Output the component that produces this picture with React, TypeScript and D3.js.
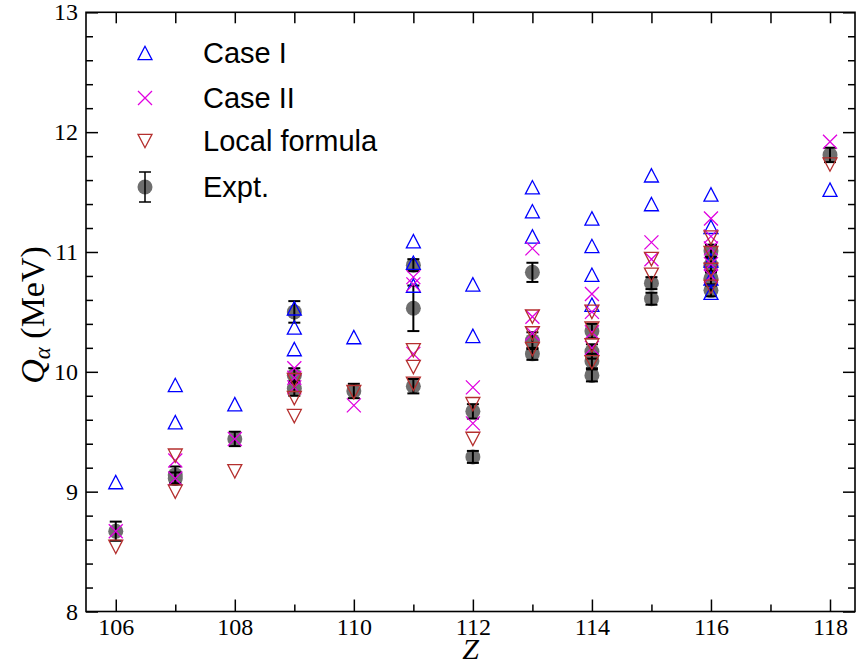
import React, { useEffect, useRef } from "react";
import * as d3 from "d3";

// [Z, Q_alpha (MeV)]
const caseI = [
  [106, 9.08],
  [107, 9.89], [107, 9.58],
  [108, 9.73],
  [109, 10.53], [109, 10.37], [109, 10.19],
  [110, 10.29],
  [111, 11.09], [111, 10.91], [111, 10.72],
  [112, 10.73], [112, 10.3],
  [113, 11.54], [113, 11.34], [113, 11.13],
  [114, 11.28], [114, 11.05], [114, 10.81], [114, 10.56],
  [115, 11.64], [115, 11.4],
  [116, 11.48], [116, 11.21], [116, 10.93], [116, 10.78], [116, 10.66],
  [118, 11.52],
];

const caseII = [
  [106, 8.67],
  [107, 9.26], [107, 9.11],
  [108, 9.44],
  [109, 10.03], [109, 9.95], [109, 9.87],
  [110, 9.72],
  [111, 10.79], [111, 10.73], [111, 10.15],
  [112, 9.87], [112, 9.57],
  [113, 11.03], [113, 10.46], [113, 10.32],
  [114, 10.65], [114, 10.5], [114, 10.33], [114, 10.2],
  [115, 11.08], [115, 10.94],
  [116, 11.28], [116, 11.13], [116, 11.03], [116, 10.9], [116, 10.8],
  [118, 11.92],
];

const localFormula = [
  [106, 8.54],
  [107, 9.3], [107, 9.0],
  [108, 9.17],
  [109, 9.93], [109, 9.78], [109, 9.63],
  [110, 9.83],
  [111, 10.18], [111, 10.04], [111, 9.9],
  [112, 9.73], [112, 9.44],
  [113, 10.46], [113, 10.32], [113, 10.19],
  [114, 10.5], [114, 10.36], [114, 10.22], [114, 10.08],
  [115, 10.94], [115, 10.81],
  [116, 11.12], [116, 10.99], [116, 10.85], [116, 10.71],
  [118, 11.73],
];

// [Z, Q, error]
const expt = [
  [106, 8.67, 0.08],
  [107, 9.14, 0.07], [107, 9.11, 0.05],
  [108, 9.44, 0.06],
  [109, 10.5, 0.09], [109, 9.97, 0.06], [109, 9.86, 0.06],
  [110, 9.84, 0.06],
  [111, 10.89, 0.05], [111, 10.53, 0.19], [111, 9.88, 0.06],
  [112, 9.67, 0.06], [112, 9.29, 0.05],
  [113, 10.83, 0.08], [113, 10.26, 0.07], [113, 10.15, 0.05],
  [114, 10.34, 0.06], [114, 10.17, 0.06], [114, 10.09, 0.06], [114, 9.97, 0.05],
  [115, 10.74, 0.05], [115, 10.61, 0.05],
  [116, 11.01, 0.05], [116, 10.89, 0.06], [116, 10.78, 0.06], [116, 10.68, 0.05],
  [118, 11.81, 0.06],
];

const legendLabels = ["Case I", "Case II", "Local formula", "Expt."];
const yMajor = [8, 9, 10, 11, 12, 13];
const xMajor = [106, 108, 110, 112, 114, 116, 118];

const W = 860;
const H = 668;
const BLUE = "#0000ff";
const MAG = "#e000e0";
const RED = "#b5302f";
const GRAY = "#6e6e6e";
const SERIF = "'Liberation Serif', 'Times New Roman', Times, serif";

const triUp = "M0,-6.7L-7,6.7L7,6.7Z";
const triDown = "M0,6.7L-7,-6.7L7,-6.7Z";
const cross = "M-7,-7L7,7M-7,7L7,-7";

export default function App() {
  const ref = useRef(null);

  useEffect(() => {
    const svg = d3.select(ref.current);
    svg.selectAll("*").remove();

    const x = d3.scaleLinear().domain([105.5, 118.42]).range([86, 855]);
    const y = d3.scaleLinear().domain([8, 13]).range([611.5, 12.3]);
    const [x0, x1] = x.range();
    const [y0, y1] = y.range();

    const minorY = d3.range(8, 13.001, 0.2).filter((v) => Math.abs(v - Math.round(v)) > 0.01);
    const minorX = [107, 109, 111, 113, 115, 117];
    const allX = d3.range(106, 119);

    const styleAxis = (g) => {
      g.attr("font-family", null).attr("font-size", null);
      g.select(".domain").remove();
      g.selectAll(".tick line").attr("stroke", "#000").attr("stroke-width", 1.5);
      g.selectAll("text")
        .attr("fill", "#000")
        .style("font-family", SERIF)
        .style("font-size", "24px");
    };

    // bottom
    svg.append("g").attr("transform", `translate(0,${y0})`)
      .call(d3.axisBottom(x).tickValues(xMajor).tickSize(-12).tickPadding(6).tickFormat(d3.format("d")))
      .call(styleAxis);
    svg.append("g").attr("transform", `translate(0,${y0})`)
      .call(d3.axisBottom(x).tickValues(minorX).tickSize(-7).tickFormat(() => ""))
      .call(styleAxis);
    // top
    svg.append("g").attr("transform", `translate(0,${y1})`)
      .call(d3.axisTop(x).tickValues(allX).tickSize(-11).tickFormat(() => ""))
      .call(styleAxis);
    // left
    svg.append("g").attr("transform", `translate(${x0},0)`)
      .call(d3.axisLeft(y).tickValues(yMajor).tickSize(-12).tickPadding(8).tickFormat(d3.format("d")))
      .call(styleAxis);
    svg.append("g").attr("transform", `translate(${x0},0)`)
      .call(d3.axisLeft(y).tickValues(minorY).tickSize(-7).tickFormat(() => ""))
      .call(styleAxis);
    // right
    svg.append("g").attr("transform", `translate(${x1},0)`)
      .call(d3.axisRight(y).tickValues(yMajor).tickSize(-12).tickFormat(() => ""))
      .call(styleAxis);
    svg.append("g").attr("transform", `translate(${x1},0)`)
      .call(d3.axisRight(y).tickValues(minorY).tickSize(-7).tickFormat(() => ""))
      .call(styleAxis);

    svg.append("rect")
      .attr("x", x0).attr("y", y1)
      .attr("width", x1 - x0).attr("height", y0 - y1)
      .attr("fill", "none").attr("stroke", "#000").attr("stroke-width", 1.6);

    // experimental points
    const ex = svg.append("g");
    ex.selectAll("circle").data(expt).enter().append("circle")
      .attr("cx", (d) => x(d[0])).attr("cy", (d) => y(d[1]))
      .attr("r", 7.5).attr("fill", GRAY);
    const eb = ex.selectAll("g.eb").data(expt).enter().append("g").attr("class", "eb")
      .attr("stroke", "#000").attr("stroke-width", 2);
    eb.append("line")
      .attr("x1", (d) => x(d[0])).attr("x2", (d) => x(d[0]))
      .attr("y1", (d) => y(d[1] - d[2])).attr("y2", (d) => y(d[1] + d[2]));
    [1, -1].forEach((s) => {
      eb.append("line")
        .attr("x1", (d) => x(d[0]) - 6).attr("x2", (d) => x(d[0]) + 6)
        .attr("y1", (d) => y(d[1] + s * d[2])).attr("y2", (d) => y(d[1] + s * d[2]));
    });

    const drawMarkers = (data, path, color) => {
      svg.append("g").selectAll("path").data(data).enter().append("path")
        .attr("transform", (d) => `translate(${x(d[0])},${y(d[1])})`)
        .attr("d", path).attr("fill", "none").attr("stroke", color).attr("stroke-width", 1.3);
    };
    drawMarkers(caseI, triUp, BLUE);
    drawMarkers(caseII, cross, MAG);
    drawMarkers(localFormula, triDown, RED);

    // legend
    const lg = svg.append("g");
    const rows = [53, 98, 141, 187];
    const mx = 145;
    lg.append("path").attr("transform", `translate(${mx},${rows[0]})`).attr("d", triUp)
      .attr("fill", "none").attr("stroke", BLUE).attr("stroke-width", 1.3);
    lg.append("path").attr("transform", `translate(${mx},${rows[1]})`).attr("d", cross)
      .attr("fill", "none").attr("stroke", MAG).attr("stroke-width", 1.3);
    lg.append("path").attr("transform", `translate(${mx},${rows[2]})`).attr("d", triDown)
      .attr("fill", "none").attr("stroke", RED).attr("stroke-width", 1.3);
    lg.append("circle").attr("cx", mx).attr("cy", rows[3]).attr("r", 7.5).attr("fill", GRAY);
    lg.append("line").attr("x1", mx).attr("x2", mx).attr("y1", rows[3] - 15).attr("y2", rows[3] + 15)
      .attr("stroke", "#000").attr("stroke-width", 1.5);
    [-15, 15].forEach((o) => {
      lg.append("line").attr("x1", mx - 6).attr("x2", mx + 6)
        .attr("y1", rows[3] + o).attr("y2", rows[3] + o)
        .attr("stroke", "#000").attr("stroke-width", 1.5);
    });
    lg.selectAll("text").data(legendLabels).enter().append("text")
      .attr("x", 203).attr("y", (d, i) => rows[i])
      .attr("dy", "0.36em")
      .style("font-family", "'Liberation Sans', Arial, sans-serif")
      .style("font-size", "29px")
      .text((d) => d);

    // axis titles
    svg.append("text")
      .attr("x", (x0 + x1) / 2).attr("y", 659)
      .attr("text-anchor", "middle")
      .style("font-family", SERIF)
      .style("font-size", "30px")
      .style("font-style", "italic")
      .text("Z");

    const yl = svg.append("text")
      .attr("transform", `translate(44,315) rotate(-90)`)
      .attr("text-anchor", "middle")
      .style("font-family", SERIF)
      .style("font-size", "34px");
    yl.append("tspan").style("font-style", "italic").text("Q");
    yl.append("tspan").style("font-style", "italic").style("font-size", "23px").attr("dy", 6).text("α");
    yl.append("tspan").attr("dy", -6).text(" (MeV)");
  }, []);

  return (
    <svg
      ref={ref}
      width={W}
      height={H}
      style={{ position: "absolute", left: 0, top: 0, background: "#fff" }}
    ></svg>
  );
}
